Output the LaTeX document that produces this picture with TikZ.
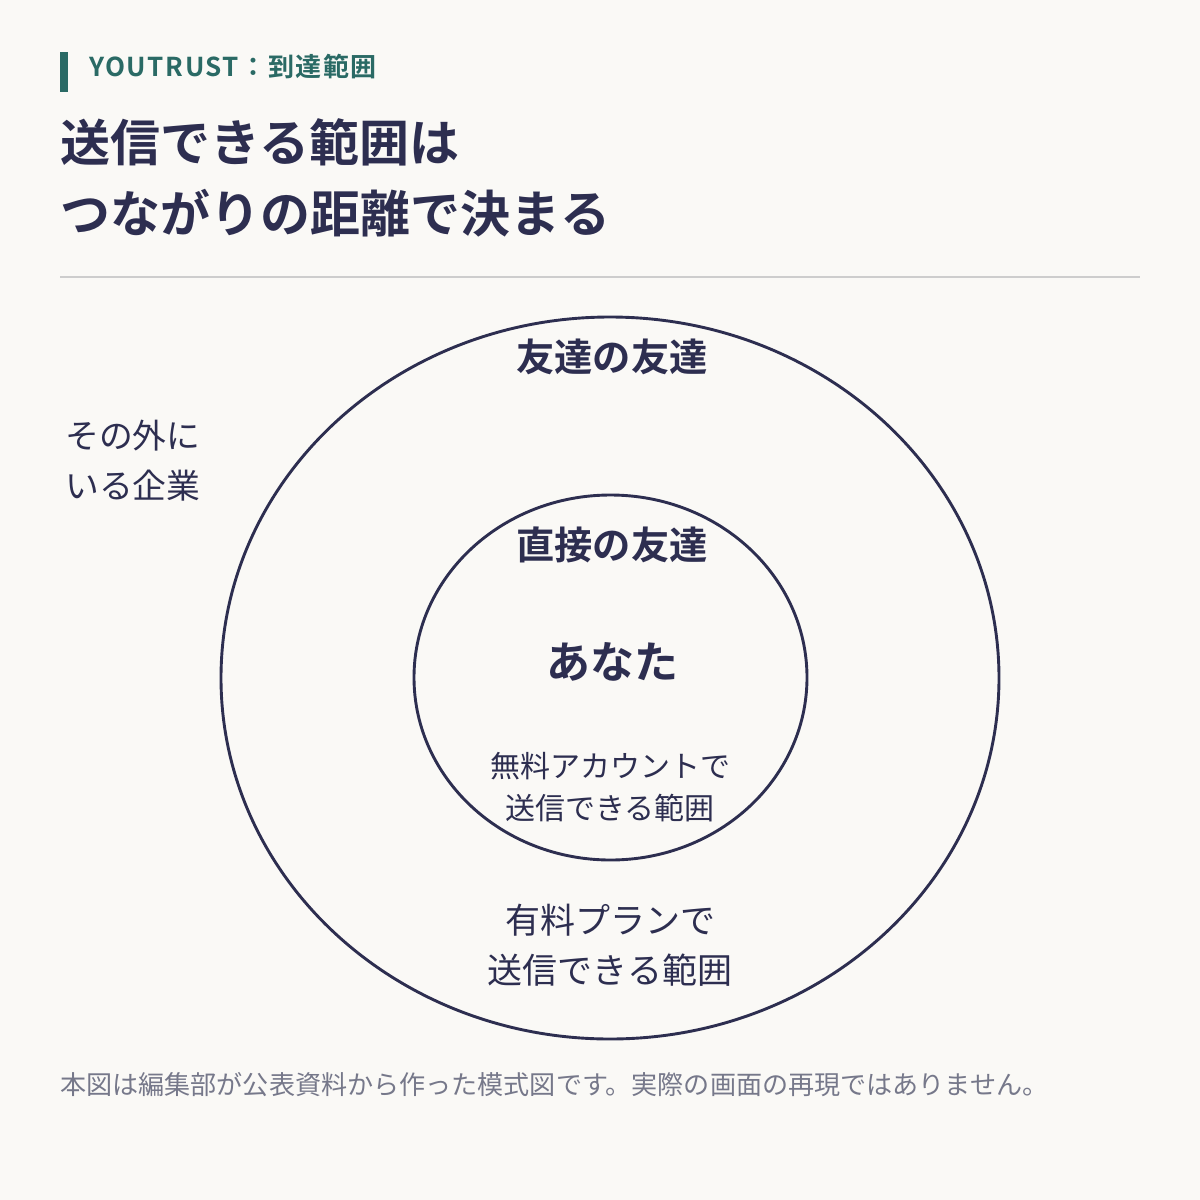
\documentclass[tikz,border=0pt]{standalone}
\usepackage{fontspec}
\setmainfont{Noto Sans CJK JP}[BoldFont={* Bold}]
\newfontfamily\jp{Noto Sans CJK JP}[BoldFont={* Bold}]
\newfontfamily\jpwide{Noto Sans CJK JP}[BoldFont={* Bold}, LetterSpace=6]
\definecolor{bgpaper}{HTML}{FAF9F6}
\definecolor{navy}{HTML}{2D2E50}
\definecolor{teal}{HTML}{2A6A65}
\definecolor{rulegray}{HTML}{CDCDCD}
\definecolor{notegray}{HTML}{76788A}
\tikzset{
  ring/.style={draw=navy, line width=2.9pt},
  ringlabel/.style={text=navy, inner sep=0pt, font=\jp\bfseries\fontsize{38.3}{44}\selectfont},
  areanote/.style={text=navy, inner sep=0pt, align=center},
}

\begin{document}
\begin{tikzpicture}[x=1pt,y=1pt,yscale=-1,xscale=1]
%set diagram to 1200 x 1200
\useasboundingbox [fill=bgpaper] (0,0) rectangle (1200,1200);

%Shape: Rectangle [accent bar]
\fill [teal] (60,52) rectangle (68,92);
% Text Node
\node (head) [anchor=west, inner sep=0pt, text=teal, font=\jpwide\bfseries\fontsize{26}{30}\selectfont] at (89,67) {YOUTRUST：到達範囲};

% Text Node
\node (title1) [anchor=west, inner sep=0pt, text=navy, font=\jp\bfseries\fontsize{50}{60}\selectfont] at (60,142) {送信できる範囲は};
% Text Node
\node (title2) [anchor=west, inner sep=0pt, text=navy, font=\jp\bfseries\fontsize{50}{60}\selectfont] at (60,213) {つながりの距離で決まる};

%Straight Lines [separator]
\draw [rulegray, line width=1.8pt] (60,277) -- (1140,277);

%Shape: Ellipse [outer]
\draw [ring] (610,678) ellipse [x radius=389, y radius=361];
%Shape: Ellipse [inner]
\draw [ring] (610.5,677.5) ellipse [x radius=196.5, y radius=182.5];

% Text Node
\node (fof) [ringlabel] at (612,357) {友達の友達};
% Text Node
\node (direct) [ringlabel] at (612,545) {直接の友達};
% Text Node
\node (you) [ringlabel, font=\jp\bfseries\fontsize{44}{52}\selectfont] at (612,662) {あなた};
% Text Node
\node (free) [areanote, font=\jp\fontsize{30}{42}\selectfont] at (610,787) {無料アカウントで\\送信できる範囲};
% Text Node
\node (paid) [areanote, font=\jp\fontsize{35}{50}\selectfont] at (610,945) {有料プランで\\送信できる範囲};
% Text Node
\node (outside) [anchor=west, inner sep=0pt, text=navy, align=left, font=\jp\fontsize{33.8}{50}\selectfont] at (65,461) {その外に\\いる企業};

% Text Node
\node (note) [anchor=west, inner sep=0pt, text=notegray, font=\jp\fontsize{26.1}{30}\selectfont] at (60,1085) {本図は編集部が公表資料から作った模式図です。実際の画面の再現ではありません。};

\end{tikzpicture}
\end{document}
